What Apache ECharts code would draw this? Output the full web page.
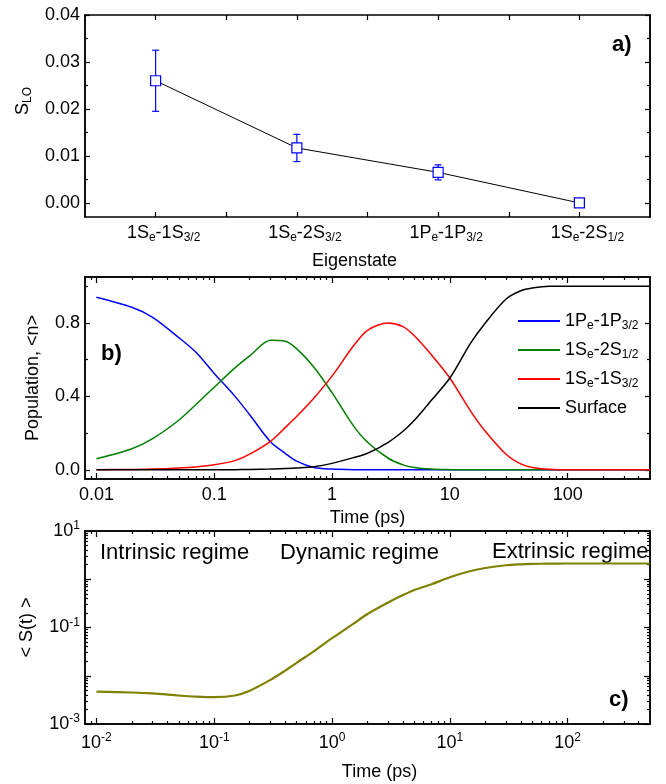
<!DOCTYPE html>
<html>
<head>
<meta charset="utf-8">
<script src="https://cdn.jsdelivr.net/npm/echarts@6/dist/echarts.min.js"></script>
<style>
  html, body { margin: 0; padding: 0; background: #fff; }
  #chart { width: 666px; height: 784px; }
</style>
</head>
<body>
<div id="chart"></div>
<script>
// panel a) - S_LO per eigenstate
var states = ['1S{sub|e}-1S{sub|3/2}', '1S{sub|e}-2S{sub|3/2}', '1P{sub|e}-1P{sub|3/2}', '1S{sub|e}-2S{sub|1/2}'];
var sLO = [0.026, 0.0117, 0.0065, 0.0];
var sLOErr = [0.0065, 0.0029, 0.0016, 0];

// panel b) - populations vs time
var times = [0.01, 0.02, 0.03, 0.05, 0.07, 0.1, 0.15, 0.2, 0.3, 0.4, 0.5, 0.7, 1, 1.5, 2, 3, 4, 5, 7, 10, 15, 20, 30, 40, 50, 70, 100, 200, 500];
var pop1P = [0.94, 0.885, 0.83, 0.72, 0.64, 0.525, 0.40, 0.30, 0.153, 0.09, 0.047, 0.013, 0.004, 0.001, 0, 0, 0, 0, 0, 0, 0, 0, 0, 0, 0, 0, 0, 0, 0];
var pop2S = [0.06, 0.115, 0.17, 0.27, 0.356, 0.45, 0.555, 0.62, 0.705, 0.70, 0.66, 0.56, 0.42, 0.245, 0.15, 0.063, 0.027, 0.013, 0.004, 0.001, 0, 0, 0, 0, 0, 0, 0, 0, 0];
var pop1S = [0, 0.002, 0.004, 0.01, 0.016, 0.027, 0.05, 0.085, 0.155, 0.23, 0.29, 0.39, 0.51, 0.67, 0.76, 0.80, 0.78, 0.73, 0.625, 0.50, 0.32, 0.21, 0.085, 0.032, 0.013, 0.003, 0, 0, 0];
var popSurf = [0, 0, 0, 0, 0, 0, 0.001, 0.002, 0.004, 0.007, 0.01, 0.017, 0.035, 0.065, 0.09, 0.15, 0.21, 0.27, 0.38, 0.50, 0.69, 0.80, 0.93, 0.975, 0.99, 1.0, 1.0, 1.0, 1.0];
var popNames = ['1P{sub|e}-1P{sub|3/2}', '1S{sub|e}-2S{sub|1/2}', '1S{sub|e}-1S{sub|3/2}', 'Surface'];

// panel c) - <S(t)>
var sT = [0.0047, 0.0045, 0.0043, 0.0039, 0.0037, 0.0036, 0.0039, 0.0049, 0.0082, 0.0128, 0.0185, 0.032, 0.060, 0.117, 0.19, 0.33, 0.47, 0.60, 0.79, 1.10, 1.48, 1.71, 1.95, 2.04, 2.08, 2.11, 2.12, 2.12, 2.12];

var font = 'Liberation Sans, Arial, Helvetica, sans-serif';
var black = '#000';

var rich = {
  sub: { fontSize: 12, fontFamily: font, color: black, verticalAlign: 'bottom', lineHeight: 8 },
  sup: { fontSize: 12, fontFamily: font, color: black, verticalAlign: 'top', lineHeight: 8 }
};

function pairs(xs, ys) {
  return xs.map(function (x, i) { return [x, ys[i]]; });
}

function logMinor(lo, hi) {
  var out = [];
  for (var d = Math.floor(Math.log10(lo)); d <= Math.ceil(Math.log10(hi)); d++) {
    for (var m = 2; m <= 9; m++) {
      var v = m * Math.pow(10, d);
      if (v > lo * 1.0001 && v < hi * 0.9999) out.push(v);
    }
  }
  return out;
}

// one axis: ticks inside, optional labels
function ax(grid, pos, type, min, max, ticks, len, labels, fmt, extra) {
  var a = {
    gridIndex: grid, position: pos, type: type, min: min, max: max,
    axisLine: { show: true, onZero: false, lineStyle: { color: black, width: 1.5 } },
    axisTick: { show: true, inside: true, length: len, customValues: ticks, lineStyle: { color: black, width: 1.2 } },
    axisLabel: { show: !!labels, customValues: labels || [], formatter: fmt,
      color: black, fontSize: 18, fontFamily: font, lineHeight: 22, rich: rich, margin: 5 },
    splitLine: { show: false }, minorTick: { show: false }
  };
  return Object.assign(a, extra || {});
}

function nameStyle(pad) {
  return { color: black, fontSize: 18, fontFamily: font, lineHeight: 22, rich: rich, padding: pad || 0 };
}

function numFmt(v) { return String(parseFloat(Number(v).toPrecision(3))); }
function powFmt(v) { return '10{sup|' + Math.round(Math.log10(v)) + '}'; }

var decTicks = [0.01, 0.1, 1, 10, 100];
var tMin = 0.008, tMax = 500;
var tMinor = logMinor(tMin, tMax);

var xAxis = [
  // a)
  ax(0, 'bottom', 'value', 0.5, 4.5, [1, 1.5, 2, 2.5, 3, 3.5, 4], 5, [1, 2, 3, 4],
    function (v) { return states[Math.round(v) - 1] || ''; },
    { name: 'Eigenstate', nameLocation: 'middle', nameGap: 33, nameTextStyle: nameStyle([0, 26, 0, 0]) }),
  ax(0, 'top', 'value', 0.5, 4.5, [1, 1.5, 2, 2.5, 3, 3.5, 4], 5),
  // b)
  ax(1, 'bottom', 'log', tMin, tMax, decTicks, 6, decTicks, numFmt,
    { name: 'Time (ps)', nameLocation: 'middle', nameGap: 26, nameTextStyle: nameStyle() }),
  ax(1, 'bottom', 'log', tMin, tMax, tMinor, 3),
  ax(1, 'top', 'log', tMin, tMax, decTicks, 6),
  ax(1, 'top', 'log', tMin, tMax, tMinor, 3),
  // c)
  ax(2, 'bottom', 'log', tMin, tMax, decTicks, 6, decTicks, powFmt,
    { name: 'Time (ps)', nameLocation: 'middle', nameGap: 37, nameTextStyle: nameStyle([0, 0, 0, 24]) }),
  ax(2, 'bottom', 'log', tMin, tMax, tMinor, 3),
  ax(2, 'top', 'log', tMin, tMax, decTicks, 6),
  ax(2, 'top', 'log', tMin, tMax, tMinor, 3)
];
xAxis[0].axisLabel.padding = [0, 0, 0, 16];
xAxis[6].axisLabel.margin = 8;

var aMajor = [0, 0.01, 0.02, 0.03, 0.04];
var aMinor = [0.005, 0.015, 0.025, 0.035];
var bMajor = [0, 0.4, 0.8];
var bMinor = [0.2, 0.6, 1.0];
var cMajor = [0.001, 0.01, 0.1, 1, 10];
var cLabels = [0.001, 0.1, 10];
var cMinor = logMinor(0.001, 10);

var yAxis = [
  // a)
  ax(0, 'left', 'value', -0.003, 0.04, aMajor, 5, aMajor, function (v) { return Number(v).toFixed(2); },
    { name: 'S{sub|LO}', nameLocation: 'middle', nameGap: 50, nameTextStyle: nameStyle([0, 0, 0, 30]) }),
  ax(0, 'left', 'value', -0.003, 0.04, aMinor, 3),
  ax(0, 'right', 'value', -0.003, 0.04, aMajor, 5),
  ax(0, 'right', 'value', -0.003, 0.04, aMinor, 3),
  // b)
  ax(1, 'left', 'value', -0.05, 1.05, bMajor, 5, bMajor, function (v) { return Number(v).toFixed(1); },
    { name: 'Population, <n>', nameLocation: 'middle', nameGap: 41, nameTextStyle: nameStyle() }),
  ax(1, 'left', 'value', -0.05, 1.05, bMinor, 3),
  ax(1, 'right', 'value', -0.05, 1.05, bMajor, 5),
  ax(1, 'right', 'value', -0.05, 1.05, bMinor, 3),
  // c)
  ax(2, 'left', 'log', 0.001, 10, cMajor, 6, cLabels, powFmt,
    { name: '< S(t) >', nameLocation: 'middle', nameGap: 34, nameTextStyle: nameStyle() }),
  ax(2, 'left', 'log', 0.001, 10, cMinor, 3),
  ax(2, 'right', 'log', 0.001, 10, cMajor, 6),
  ax(2, 'right', 'log', 0.001, 10, cMinor, 3)
];

var popColors = ['#0000ff', '#008000', '#ff0000', '#000000'];
var popData = [pop1P, pop2S, pop1S, popSurf];

var series = [
  {
    type: 'custom', xAxisIndex: 0, yAxisIndex: 0, z: 1, silent: true,
    data: sLO.map(function (v, i) { return [i + 1, v - sLOErr[i], v + sLOErr[i]]; }),
    renderItem: function (params, api) {
      var x = api.value(0);
      var lo = api.coord([x, api.value(1)]);
      var hi = api.coord([x, api.value(2)]);
      if (Math.abs(lo[1] - hi[1]) < 1) return null;
      var w = 3.5, st = { stroke: '#0000ff', lineWidth: 1.2 };
      return { type: 'group', children: [
        { type: 'line', shape: { x1: lo[0], y1: lo[1], x2: hi[0], y2: hi[1] }, style: st },
        { type: 'line', shape: { x1: lo[0] - w, y1: lo[1], x2: lo[0] + w, y2: lo[1] }, style: st },
        { type: 'line', shape: { x1: hi[0] - w, y1: hi[1], x2: hi[0] + w, y2: hi[1] }, style: st }
      ] };
    }
  },
  {
    type: 'line', xAxisIndex: 0, yAxisIndex: 0, z: 3, silent: true,
    data: pairs(sLO.map(function (v, i) { return i + 1; }), sLO),
    symbol: 'rect', symbolSize: 10,
    itemStyle: { color: '#fff', borderColor: '#0000ff', borderWidth: 1.2 },
    lineStyle: { color: black, width: 1 }
  }
];

popData.forEach(function (arr, k) {
  series.push({
    name: popNames[k], type: 'line', xAxisIndex: 2, yAxisIndex: 4, silent: true,
    data: pairs(times, arr), showSymbol: false, symbol: 'none',
    smooth: 0.3,
    itemStyle: { color: popColors[k] },
    lineStyle: { color: popColors[k], width: 1.5 }
  });
});

series.push({
  type: 'line', xAxisIndex: 6, yAxisIndex: 8, silent: true,
  data: pairs(times, sT), showSymbol: false, symbol: 'none',
  smooth: 0.3,
  lineStyle: { color: '#808000', width: 2.2 }
});

function txt(t, x, y, bold) {
  return { type: 'text', x: x, y: y, silent: true,
    style: { text: t, fill: black, font: (bold ? 'bold 22px ' : '22px ') + font, verticalAlign: 'middle' } };
}

var chart = echarts.init(document.getElementById('chart'), null, { renderer: 'canvas' });
chart.setOption({
  animation: false,
  backgroundColor: '#fff',
  grid: [
    { left: 85, top: 15, width: 565, height: 202 },
    { left: 85, top: 277, width: 565, height: 202 },
    { left: 85, top: 531, width: 565, height: 201 }
  ],
  xAxis: xAxis,
  yAxis: yAxis,
  legend: {
    data: popNames, orient: 'vertical', left: 518, top: 310, padding: 0,
    itemGap: 7, itemWidth: 42, itemHeight: 2, icon: 'rect',
    textStyle: { color: black, fontSize: 18, fontFamily: font, lineHeight: 22, rich: rich },
    selectedMode: false
  },
  series: series,
  graphic: [
    txt('a)', 612, 45, true),
    txt('b)', 101, 354, true),
    txt('c)', 609, 700, true),
    txt('Intrinsic regime', 100, 553),
    txt('Dynamic regime', 280, 553),
    txt('Extrinsic regime', 492, 552)
  ]
});
</script>
</body>
</html>
